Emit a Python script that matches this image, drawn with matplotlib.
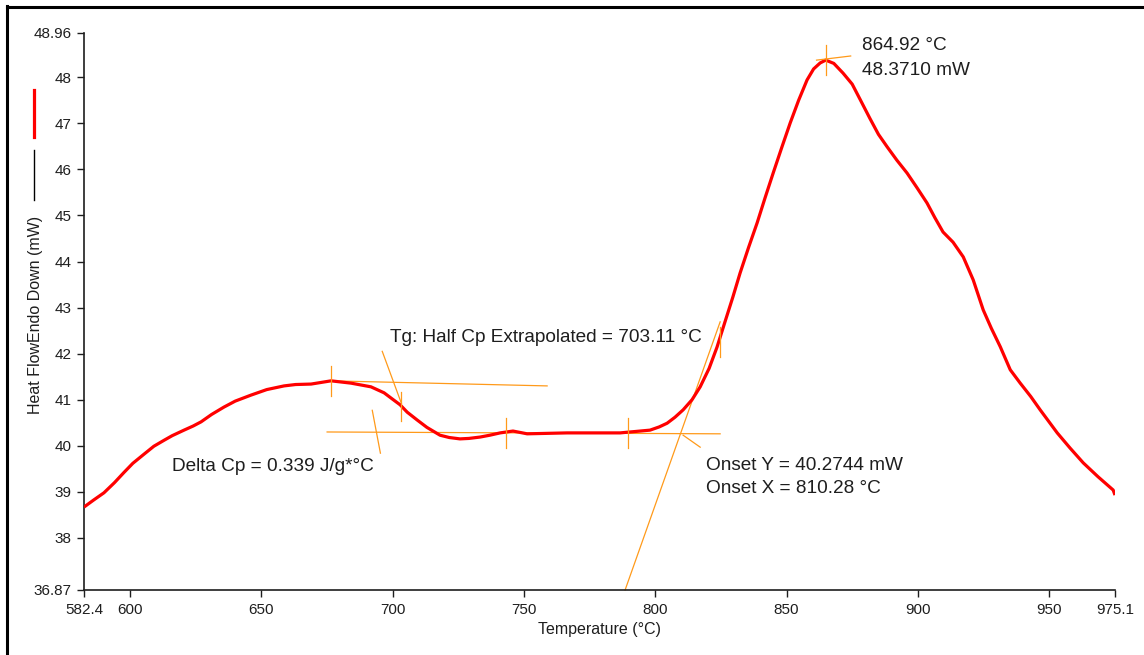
import numpy as np
import matplotlib
matplotlib.use("Agg")
import matplotlib.pyplot as plt
from matplotlib.lines import Line2D

# DSC trace
temp = [582.4, 586.0, 590.0, 594.0, 597.6, 601.0, 605.3, 609.0, 612.9, 616.0,
        620.5, 624.0, 627.0, 631.0, 635.7, 640.0, 646.0, 652.0, 658.6, 663.0,
        668.9, 676.5, 684.1, 691.7, 696.7, 699.5, 702.8, 705.5, 709.3, 713.0,
        718.0, 721.5, 725.6, 729.0, 733.3, 737.0, 740.9, 745.8, 751.2, 766.4,
        786.6, 798.0, 801.5, 804.5, 807.5, 810.6, 814.0, 817.1, 820.5, 823.5,
        826.6, 829.5, 832.3, 835.5, 838.8, 841.8, 844.9, 848.2, 851.4, 854.6,
        857.8, 860.3, 862.8, 864.92, 868.0, 871.5, 875.0, 878.0, 881.8, 885.0,
        888.3, 892.0, 895.9, 899.7, 903.5, 906.5, 909.6, 913.4, 917.3, 921.1,
        924.9, 928.0, 931.4, 935.2, 939.0, 943.0, 946.6, 953.1, 958.0, 963.0,
        968.6, 974.4, 975.1]
heat = [38.67, 38.82, 38.98, 39.20, 39.42, 39.62, 39.82, 39.99, 40.12, 40.22,
        40.34, 40.43, 40.52, 40.68, 40.84, 40.97, 41.10, 41.22, 41.30, 41.33,
        41.34, 41.41, 41.36, 41.28, 41.15, 41.03, 40.89, 40.73, 40.56, 40.40,
        40.23, 40.18, 40.15, 40.16, 40.19, 40.23, 40.28, 40.32, 40.26, 40.28,
        40.28, 40.34, 40.41, 40.49, 40.62, 40.78, 41.00, 41.28, 41.68, 42.14,
        42.70, 43.22, 43.75, 44.30, 44.84, 45.38, 45.92, 46.48, 47.01, 47.50,
        47.94, 48.18, 48.31, 48.371, 48.30, 48.09, 47.85, 47.52, 47.10, 46.76,
        46.49, 46.20, 45.92, 45.60, 45.27, 44.95, 44.64, 44.42, 44.10, 43.60,
        42.95, 42.55, 42.15, 41.65, 41.36, 41.07, 40.78, 40.28, 39.95, 39.63,
        39.33, 39.04, 38.93]

xticks = [582.4, 600, 650, 700, 750, 800, 850, 900, 950, 975.1]
xticklabels = ["582.4", "600", "650", "700", "750", "800", "850", "900", "950", "975.1"]
yticks = [36.87, 38, 39, 40, 41, 42, 43, 44, 45, 46, 47, 48, 48.96]
yticklabels = ["36.87", "38", "39", "40", "41", "42", "43", "44", "45", "46", "47", "48", "48.96"]

# analysis construction lines (Tg / onset / peak)
upper_base_x = [676.5, 758.8]
upper_base_y = [41.41, 41.30]
lower_base_x = [675.0, 824.7]
lower_base_y = [40.30, 40.26]
onset_tan_x = [788.5, 824.7]
onset_tan_y = [36.87, 42.69]
onset_diag_x = [810.6, 817.1]
onset_diag_y = [40.23, 39.97]
tg_slant1_x = [696.0, 703.3]
tg_slant1_y = [42.05, 40.92]
tg_slant2_x = [692.2, 695.3]
tg_slant2_y = [40.77, 39.84]
cross_x = [676.5, 703.3, 743.0, 789.5, 824.5]
cross_y = [41.41, 40.85, 40.28, 40.28, 42.25]
peak_x = 864.92
peak_y = 48.371

plt.rcParams['font.family'] = ['Liberation Sans', 'DejaVu Sans']
orange = '#ff9a1a'
ink = '#1e1e1e'

W, H = 1144, 655
fig = plt.figure(figsize=(W / 100, H / 100), dpi=100)
ax = fig.add_axes([84 / W, (H - 590) / H, (1115 - 84) / W, (590 - 33) / H])

ax.plot(temp, heat, color='#ff0000', lw=2.3, solid_joinstyle='round',
        solid_capstyle='butt', zorder=3)

lw_o = 0.9
ax.plot(upper_base_x, upper_base_y, color=orange, lw=lw_o)
ax.plot(lower_base_x, lower_base_y, color=orange, lw=lw_o)
ax.plot(onset_tan_x, onset_tan_y, color=orange, lw=lw_o, clip_on=False)
ax.plot(onset_diag_x, onset_diag_y, color=orange, lw=lw_o)
ax.plot(tg_slant1_x, tg_slant1_y, color=orange, lw=lw_o)
ax.plot(tg_slant2_x, tg_slant2_y, color=orange, lw=lw_o)
for cx, cy in zip(cross_x, cross_y):
    ax.plot([cx, cx], [cy - 0.32, cy + 0.32], color=orange, lw=lw_o, zorder=4)
ax.plot([peak_x, peak_x], [peak_y - 0.32, peak_y + 0.32], color=orange, lw=lw_o, zorder=4)
ax.plot([peak_x - 3.5, peak_x + 9.5], [peak_y, peak_y + 0.09], color=orange, lw=lw_o, zorder=4)

fs = 13.7
ax.text(878.8, 48.68, "864.92 °C", fontsize=fs, va='center', color=ink)
ax.text(878.8, 48.14, "48.3710 mW", fontsize=fs, va='center', color=ink)
ax.text(699.0, 42.36, "Tg: Half Cp Extrapolated = 703.11 °C", fontsize=fs, va='center', color=ink)
ax.text(615.9, 39.54, "Delta Cp = 0.339 J/g*°C", fontsize=fs, va='center', color=ink)
ax.text(819.3, 39.58, "Onset Y = 40.2744 mW", fontsize=fs, va='center', color=ink)
ax.text(819.3, 39.08, "Onset X = 810.28 °C", fontsize=fs, va='center', color=ink)

ax.set_xlim(582.4, 975.1)
ax.set_ylim(36.87, 48.96)
ax.set_xticks(xticks)
ax.set_xticklabels(xticklabels)
ax.set_yticks(yticks)
ax.set_yticklabels(yticklabels)
ax.tick_params(labelsize=11, length=5, width=1, colors=ink, pad=4)
for s in ['top', 'right']:
    ax.spines[s].set_visible(False)
for s in ['left', 'bottom']:
    ax.spines[s].set_color(ink)
    ax.spines[s].set_linewidth(1.2)

ax.set_xlabel("Temperature (°C)", fontsize=11.5, labelpad=4, color=ink)
fig.text(36 / W, 1 - 315 / H, "Heat FlowEndo Down (mW)", rotation=90,
         fontsize=11.5, ha='center', va='center', color=ink)

# legend glyphs beside the y label
fig.add_artist(Line2D([34 / W, 34 / W], [1 - 90 / H, 1 - 137 / H], color='#ff0000', lw=2.3))
fig.add_artist(Line2D([34 / W, 34 / W], [1 - 150 / H, 1 - 200 / H], color='black', lw=1.0))

# frame of the screenshot
fig.add_artist(Line2D([7 / W, 7 / W], [1 - 6 / H, 0], color='black', lw=2.2))
fig.add_artist(Line2D([7 / W, 1], [1 - 7 / H, 1 - 7 / H], color='black', lw=2.2))

fig.savefig("out.png", dpi=100)
